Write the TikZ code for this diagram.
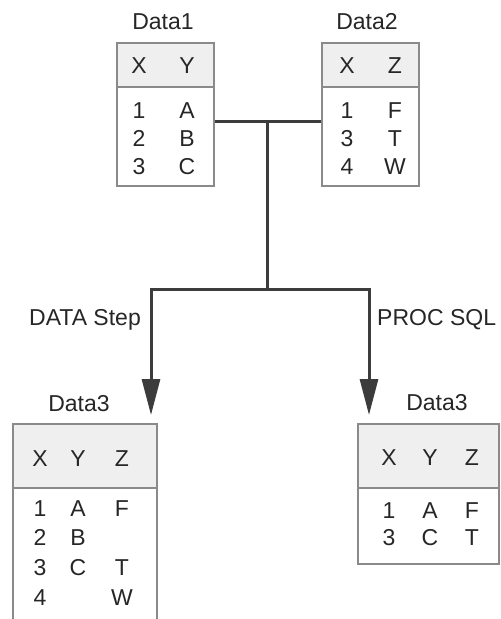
\documentclass[tikz,border=0pt]{standalone}
\usepackage{fontspec}
\setmainfont{Liberation Sans}
\usetikzlibrary{arrows.meta,positioning,calc}
\definecolor{TB}{HTML}{8A8A8A}
\definecolor{TH}{HTML}{EFEFEF}
\definecolor{LN}{HTML}{3C3C3C}

\begin{document}
\begin{tikzpicture}[x=1pt, y=-1pt,
    tab/.style={draw=TB, line width=2.4pt, inner sep=0pt, anchor=north west,
      path picture={
        \fill[TH] (path picture bounding box.north west)
          rectangle ([yshift=-#1]path picture bounding box.north east);
        \draw[TB, line width=2pt] ([yshift=-#1]path picture bounding box.north west)
          -- ([yshift=-#1]path picture bounding box.north east);
      }},
    cell/.style={font=\fontsize{23}{26}\selectfont, inner sep=0pt,
      text height=16.5pt, text depth=0pt, text=black!85},
    flow/.style={draw=LN, line width=3pt},
    tip/.style={-{Triangle[length=36pt,width=18pt]}, LN}]
  \useasboundingbox (0,0) rectangle (501,619);

  % the two input tables
  \node[tab=44pt, minimum width=97, minimum height=143] (d1) at (116,42) {};
  \node[tab=44pt, minimum width=97, minimum height=143] (d2) at (321,42) {};
  \node[cell] (t1) at (163,21) {Data1};
  \node[cell] (t2) at (367,21) {Data2};
  \foreach \t/\x/\y [count=\i] in {X/139/65, Y/187/65, 1/139/110, A/187/110,
      2/139/138, B/187/138, 3/139/166, C/187/166}
    \node[cell] (d1c\i) at (\x,\y) {\t};
  \foreach \t/\x/\y [count=\i] in {X/347/65, Z/395/65, 1/347/110, F/395/110,
      3/347/138, T/395/138, 4/347/166, W/395/166}
    \node[cell] (d2c\i) at (\x,\y) {\t};

  % the two results
  \node[tab=64pt, minimum width=144, minimum height=210] (d3a) at (12,423) {};
  \node[tab=64pt, minimum width=141, minimum height=140] (d3b) at (357,423) {};
  \node[cell] (t3a) at (79,403) {Data3};
  \node[cell] (t3b) at (437,402) {Data3};
  \foreach \t/\x/\y [count=\i] in {X/40/458, Y/78/458, Z/122/458,
      1/40/508, A/78/508, F/122/508, 2/40/537, B/78/537,
      3/40/567, C/78/567, T/122/567, 4/40/597, W/122/597}
    \node[cell] (d3ac\i) at (\x,\y) {\t};
  \foreach \t/\x/\y [count=\i] in {X/389/457, Y/430/457, Z/472/457,
      1/389/510, A/430/510, F/472/510, 3/389/537, C/430/537, T/472/537}
    \node[cell] (d3bc\i) at (\x,\y) {\t};

  % merge lines
  \coordinate (j1) at (267,121);
  \coordinate (j2) at (267,289);
  \coordinate (aL) at (151,415);
  \coordinate (aR) at (369,415);
  \draw[flow] (d1.east |- j1) -- (d2.west |- j1);
  \draw[flow] (j1) -- (j2);
  \draw[flow, tip] (j2) -| (aL);
  \draw[flow, tip] (j2) -| (aR);

  \node[cell, anchor=east] (lds) at (141,317) {DATA Step};
  \node[cell, anchor=west] (lps) at (377,317) {PROC SQL};
\end{tikzpicture}
\end{document}
